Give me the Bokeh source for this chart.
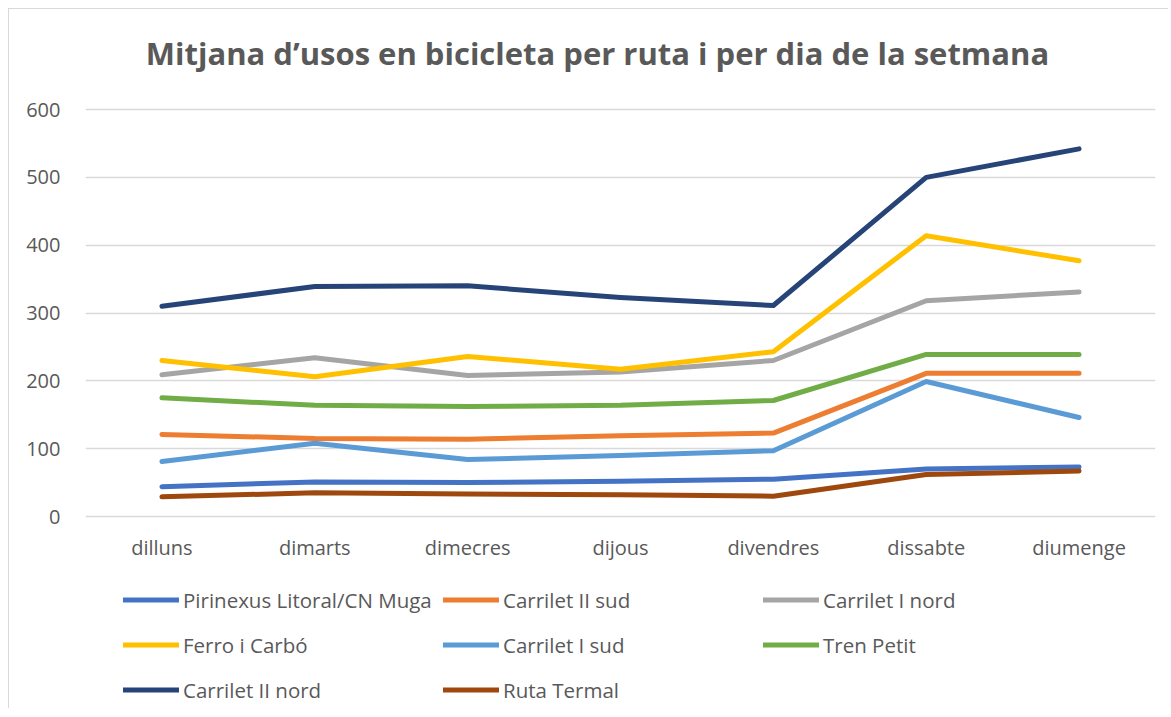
from bokeh.plotting import figure
from bokeh.models import Range1d, FactorRange, Legend, LegendItem, Label, FixedTicker
from bokeh.embed import file_html
from bokeh.resources import INLINE

days = ["dilluns", "dimarts", "dimecres", "dijous", "divendres", "dissabte", "diumenge"]

pirinexus = [44, 51, 50, 52, 55, 70, 73]
carrilet2_sud = [121, 115, 114, 119, 123, 211, 211]
carrilet1_nord = [209, 234, 208, 213, 230, 318, 331]
ferro_carbo = [230, 206, 236, 217, 243, 414, 377]
carrilet1_sud = [81, 108, 84, 90, 97, 199, 146]
tren_petit = [175, 164, 162, 164, 171, 239, 239]
carrilet2_nord = [310, 339, 340, 323, 311, 500, 542]
ruta_termal = [29, 35, 33, 32, 30, 62, 67]

y_ticks = [0, 100, 200, 300, 400, 500, 600]

series_names = ["Pirinexus Litoral/CN Muga", "Carrilet II sud", "Carrilet I nord",
                "Ferro i Carbó", "Carrilet I sud", "Tren Petit",
                "Carrilet II nord", "Ruta Termal"]
series_values = [pirinexus, carrilet2_sud, carrilet1_nord, ferro_carbo,
                 carrilet1_sud, tren_petit, carrilet2_nord, ruta_termal]
colors = ["#4472C4", "#ED7D31", "#A5A5A5", "#FFC000",
          "#5B9BD5", "#70AD47", "#264478", "#9E480E"]

title_text = "Mitjana d\u2019usos en bicicleta per ruta i per dia de la setmana"

# layout (page pixels): value 600 at y=109, value 0 at y=516; frame from y=20 to y=709
px_per_unit = (516 - 109) / 600.0
y_top = 600 + (109 - 20) / px_per_unit
y_bottom = -(709 - 516) / px_per_unit

p = figure(width=1160, height=700, x_range=FactorRange(*days, range_padding=0),
           y_range=Range1d(y_bottom, y_top), output_backend="svg",
           toolbar_location=None,
           min_border_left=76, min_border_right=14, min_border_top=11,
           min_border_bottom=0)
p.styles = {"margin-left": "8px", "margin-top": "8px",
            "border-left": "1px solid #D9D9D9", "border-top": "1px solid #D9D9D9"}
p.outline_line_color = None
p.background_fill_color = "white"
p.border_fill_color = "white"

p.xgrid.grid_line_color = None
p.ygrid.grid_line_color = "#D9D9D9"
p.ygrid.grid_line_width = 1.3
p.yaxis.ticker = FixedTicker(ticks=y_ticks)
p.xaxis.fixed_location = 0

for ax in (p.xaxis, p.yaxis):
    ax.axis_line_color = None
    ax.major_tick_line_color = None
    ax.minor_tick_line_color = None
    ax.major_tick_out = 0
    ax.major_tick_in = 0
    ax.major_label_text_font = "Open Sans"
    ax.major_label_text_font_size = "20px"
    ax.major_label_text_color = "#595959"
p.yaxis.major_label_standoff = 25
p.xaxis.major_label_standoff = 17

items = []
for name, vals, col in zip(series_names, series_values, colors):
    r = p.line(days, vals, line_color=col, line_width=5, line_cap="round",
               line_join="round")
    items.append(LegendItem(label=name, renderers=[r]))

legend = Legend(items=items, orientation="horizontal", ncols=3,
                location=(38, -3), padding=0, margin=0, spacing=0,
                glyph_width=56, glyph_height=45, label_height=45,
                label_width=260, label_standoff=4,
                label_text_font="Open Sans", label_text_font_size="20.5px",
                label_text_color="#595959", border_line_color=None,
                background_fill_alpha=0)
p.add_layout(legend, "center")

title = Label(x=512, y=709 - 52, x_units="screen", y_units="screen", text=title_text,
              text_align="center", text_baseline="middle", text_font="Open Sans",
              text_font_style="bold", text_font_size="31px", text_color="#595959")
p.add_layout(title)

open("out.html", "w").write(file_html(p, INLINE))
